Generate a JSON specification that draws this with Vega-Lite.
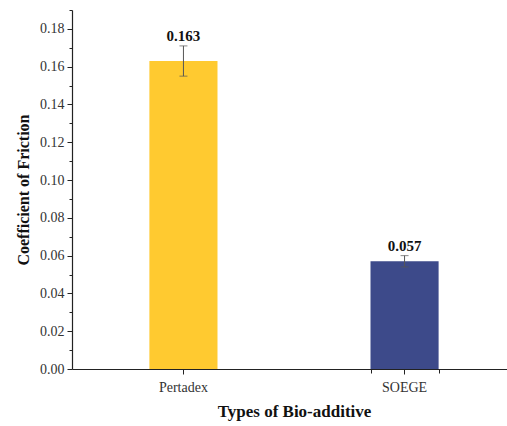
{
  "$schema": "https://vega.github.io/schema/vega-lite/v6.json",
  "autosize": "none",
  "padding": {"left": 72, "top": 10, "right": 0, "bottom": 57},
  "width": 444,
  "height": 359,
  "background": "white",
  "config": {
    "view": {"stroke": null},
    "font": "Liberation Serif",
    "axis": {"domainColor": "#222", "tickColor": "#222", "labelColor": "#333", "titleColor": "#111", "grid": false, "labelFont": "Liberation Serif", "titleFont": "Liberation Serif"}
  },
  "resolve": {"axis": {"y": "independent", "x": "independent"}},
  "data": {"values": [
    {"type": "Pertadex", "cof": 0.163, "lo": 0.155, "hi": 0.171, "label": "0.163"},
    {"type": "SOEGE", "cof": 0.057, "lo": 0.054, "hi": 0.060, "label": "0.057"}
  ]},
  "layer": [
    {
      "mark": {"type": "bar", "clip": false},
      "encoding": {
        "x": {"field": "type", "type": "nominal", "sort": null,
          "scale": {"paddingInner": 0.692, "paddingOuter": 0.35},
          "axis": {"title": "Types of Bio-additive", "labelAngle": 0, "labelFontSize": 14, "labelPadding": 6, "tickSize": 5, "domainWidth": 1.2, "titleFontSize": 17, "titleFontWeight": "bold", "titlePadding": 9}},
        "y": {"field": "cof", "type": "quantitative", "title": "Coefficient of Friction",
          "scale": {"domain": [0, 0.19], "nice": false},
          "axis": {"orient": "left", "values": [0, 0.02, 0.04, 0.06, 0.08, 0.1, 0.12, 0.14, 0.16, 0.18],
            "format": ".2f", "labelOverlap": false, "tickSize": 5,
            "labelFontSize": 14, "labelPadding": 3, "domainWidth": 1.2, "titleFontSize": 16, "titleFontWeight": "bold", "titlePadding": 8}},
        "color": {"field": "type", "type": "nominal", "scale": {"range": ["#FFCA30", "#3D4A8A"]}, "legend": null}
      }
    },
    {
      "mark": {"type": "rule", "color": "#555", "strokeWidth": 1},
      "encoding": {
        "x": {"field": "type", "type": "nominal", "sort": null,
          "axis": {"orient": "bottom", "tickBand": "extent", "values": ["SOEGE"], "labels": false, "domain": false, "title": null, "tickSize": 4}},
        "y": {"field": "lo", "type": "quantitative",
          "axis": {"orient": "left", "values": [0.01, 0.03, 0.05, 0.07, 0.09, 0.11, 0.13, 0.15, 0.17, 0.19], "labels": false, "title": null, "domain": false, "tickSize": 3}},
        "y2": {"field": "hi"}
      }
    },
    {
      "mark": {"type": "tick", "color": "#555", "thickness": 1, "size": 8},
      "encoding": {"x": {"field": "type", "type": "nominal", "sort": null, "axis": null}, "y": {"field": "lo", "type": "quantitative", "axis": null}}
    },
    {
      "mark": {"type": "tick", "color": "#555", "thickness": 1, "size": 8},
      "encoding": {"x": {"field": "type", "type": "nominal", "sort": null, "axis": null}, "y": {"field": "hi", "type": "quantitative", "axis": null}}
    },
    {
      "mark": {"type": "text", "fontWeight": "bold", "fontSize": 15, "dy": -10, "color": "#111", "font": "Liberation Serif"},
      "encoding": {"x": {"field": "type", "type": "nominal", "sort": null, "axis": null}, "y": {"field": "hi", "type": "quantitative", "axis": null}, "text": {"field": "label"}}
    }
  ]
}
